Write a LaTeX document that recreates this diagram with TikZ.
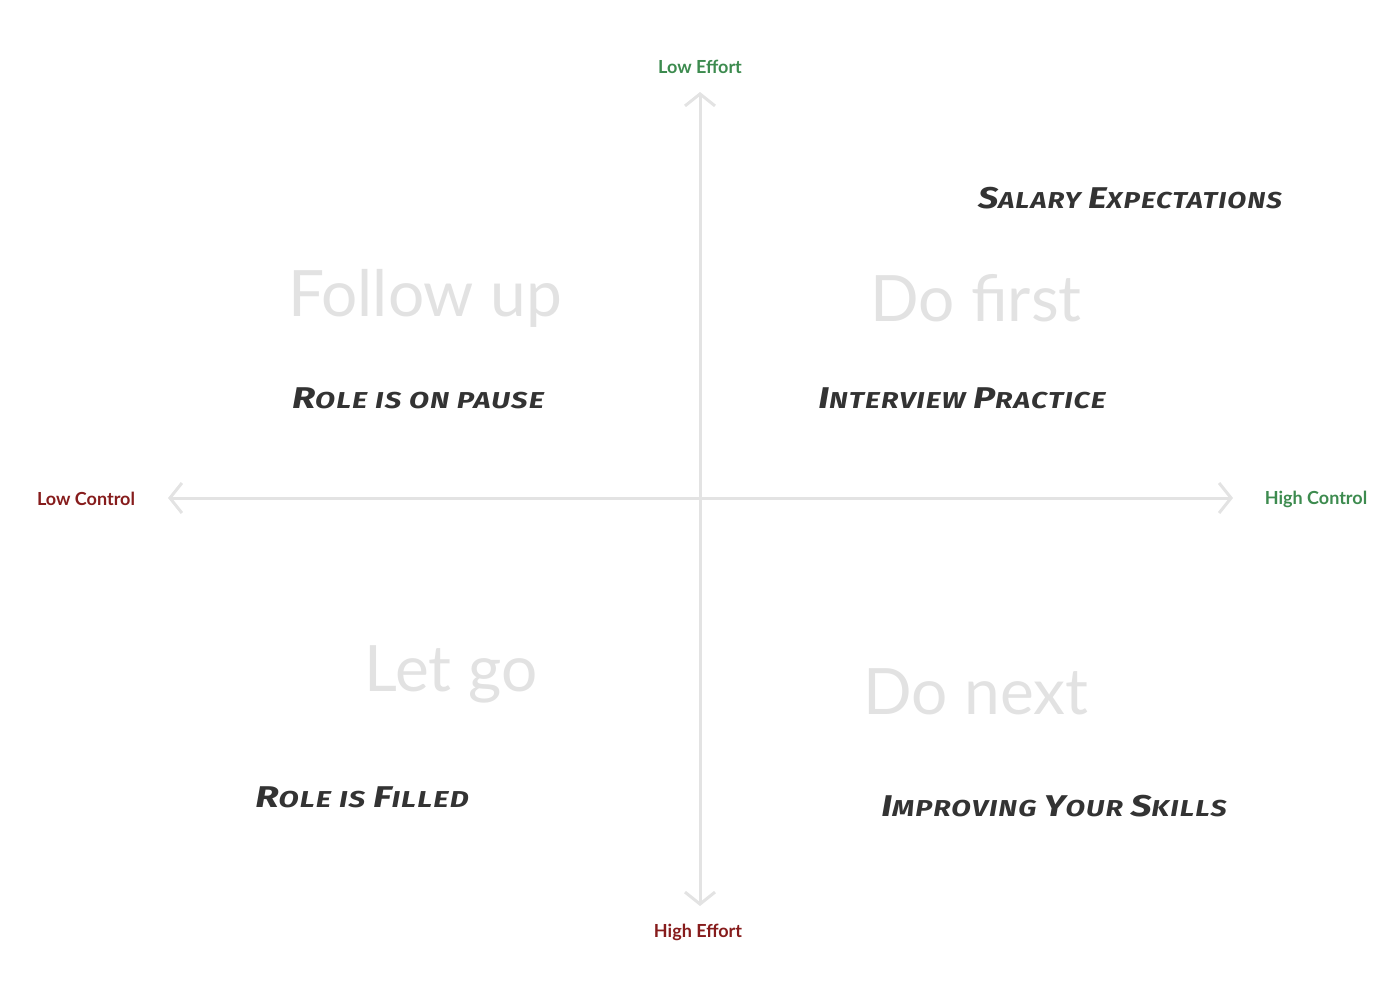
\documentclass[tikz,border=0pt]{standalone}
\usepackage{fontspec}
\setmainfont{Lato}
\newfontfamily\handfont[LetterSpace=4]{Fira Sans}
\usetikzlibrary{arrows.meta}
\definecolor{axisgray}{HTML}{E3E3E3}
\definecolor{titlegray}{HTML}{E2E2E2}
\definecolor{goodgreen}{HTML}{3D8B4F}
\definecolor{badred}{HTML}{861C1C}
\definecolor{inkgray}{HTML}{333333}
\newcommand{\SC}[1]{{\fontsize{30}{30}\selectfont #1}}
\newcommand{\wide}[2]{\scalebox{#1}[1]{#2}}
\tikzset{
  axisline/.style={draw=axisgray, line width=3pt, -{Straight Barb[length=12pt,width=30pt,line width=3pt]}},
  axislabel/.style={font=\bfseries\fontsize{18}{18}\selectfont, inner sep=0pt},
  quadtitle/.style={text=titlegray, font=\fontsize{64}{64}\selectfont, inner sep=0pt},
  item/.style={text=inkgray, font=\handfont\bfseries\itshape\fontsize{23}{23}\selectfont, inner sep=0pt},
}
\begin{document}
\begin{tikzpicture}[x=1pt,y=-1pt]
\useasboundingbox (0,0) rectangle (1400,1000);
\coordinate (c) at (700,498);
\coordinate (L) at (168,498);
\coordinate (R) at (1233,498);
\coordinate (T) at (700,92);
\coordinate (B) at (700,906);
\draw[axisline] (c) -- (L);
\draw[axisline] (c) -- (R);
\draw[axisline] (c) -- (T);
\draw[axisline] (c) -- (B);
\node[axislabel, text=goodgreen] (le) at (700,67) {Low Effort};
\node[axislabel, text=badred] (he) at (698,932) {High Effort};
\node[axislabel, text=badred] (lc) at (86,499) {Low Control};
\node[axislabel, text=goodgreen] (hc) at (1316,499) {High Control};
\node[quadtitle] (q1) at (425,298) {Follow up};
\node[quadtitle] (q2) at (976,298) {Do first};
\node[quadtitle] (q3) at (451,674) {Let go};
\node[quadtitle] (q4) at (976,692) {Do next};
\node[item] (i1) at (1130,198) {\wide{1.2}{\SC{S}ALARY \SC{E}XPECTATIONS}};
\node[item] (i2) at (418,398) {\wide{1.27}{\SC{R}OLE IS ON PAUSE}};
\node[item] (i3) at (962,398) {\wide{1.24}{\SC{I}NTERVIEW \SC{P}RACTICE}};
\node[item] (i4) at (362,797) {\wide{1.28}{\SC{R}OLE IS \SC{F}ILLED}};
\node[item] (i5) at (1054,806) {\wide{1.24}{\SC{I}MPROVING \SC{Y}OUR \SC{S}KILLS}};
\end{tikzpicture}
\end{document}
